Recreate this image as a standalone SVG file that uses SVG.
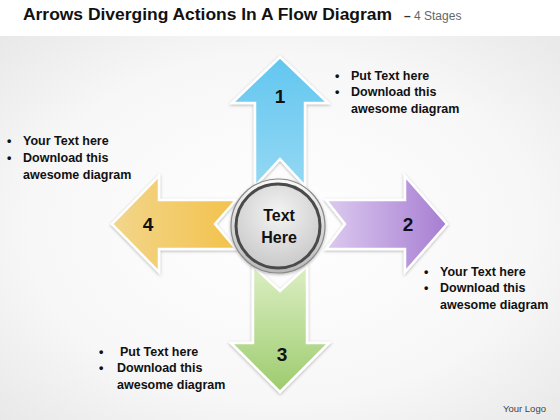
<svg xmlns="http://www.w3.org/2000/svg" width="560" height="420" viewBox="0 0 560 420">
<defs>
<radialGradient id="bg" cx="0.5" cy="0.5" r="0.75">
<stop offset="0" stop-color="#ffffff"/>
<stop offset="0.6" stop-color="#f7f7f7"/>
<stop offset="1" stop-color="#e6e6e6"/>
</radialGradient>
<linearGradient id="gBlue" x1="0" y1="0" x2="0" y2="1">
<stop offset="0" stop-color="#62c6ef"/>
<stop offset="1" stop-color="#94d8f4"/>
</linearGradient>
<linearGradient id="gPurple" x1="0" y1="0" x2="1" y2="0">
<stop offset="0" stop-color="#dccaef"/>
<stop offset="1" stop-color="#a77dd2"/>
</linearGradient>
<linearGradient id="gGreen" x1="0" y1="0" x2="0" y2="1">
<stop offset="0" stop-color="#dcefc4"/>
<stop offset="1" stop-color="#9dcb6d"/>
</linearGradient>
<linearGradient id="gYellow" x1="0" y1="0" x2="1" y2="0">
<stop offset="0" stop-color="#f2d68c"/>
<stop offset="1" stop-color="#f3c24c"/>
</linearGradient>
<linearGradient id="gRing" x1="0" y1="0" x2="0" y2="1">
<stop offset="0" stop-color="#fafafa"/>
<stop offset="1" stop-color="#b8b8b8"/>
</linearGradient>
<radialGradient id="gInner" cx="0.5" cy="0.35" r="0.7">
<stop offset="0" stop-color="#f4f4f4"/>
<stop offset="1" stop-color="#c6c6c6"/>
</radialGradient>
<filter id="sh" x="-20%" y="-20%" width="140%" height="140%">
<feDropShadow dx="0" dy="1" stdDeviation="1.5" flood-color="#000" flood-opacity="0.3"/>
</filter>
</defs>
<style>
.arrow{stroke:#ffffff;stroke-width:2.5;stroke-linejoin:miter;filter:url(#sh)}
.num{font-family:"Liberation Sans",Arial,sans-serif;font-weight:bold;font-size:19px;fill:#111;text-anchor:middle}
.txt{font-family:"Liberation Sans",Arial,sans-serif;font-weight:bold;font-size:12.5px;fill:#111}
.ctr{font-family:"Liberation Sans",Arial,sans-serif;font-weight:bold;font-size:16px;fill:#111;text-anchor:middle}
</style>
<rect x="0" y="0" width="560" height="420" fill="#ffffff"/>
<rect x="0" y="36" width="560" height="384" fill="url(#bg)"/>
<text x="23" y="20" font-family="'Liberation Sans',Arial,sans-serif" font-weight="bold" font-size="16" fill="#111" textLength="369" lengthAdjust="spacingAndGlyphs">Arrows Diverging Actions In A Flow Diagram</text>
<text x="404" y="20" font-family="'Liberation Sans',Arial,sans-serif" font-size="12" fill="#666"><tspan font-weight="bold" fill="#333">–</tspan> 4 Stages</text>
<g id="arrow1">
<polygon class="arrow" fill="url(#gBlue)" points="280,57 328,103 305,103 305,186 280,159 255,186 255,103 232,103"/>
<text class="num" x="280" y="103">1</text>
</g>
<g id="arrow2">
<polygon class="arrow" fill="url(#gPurple)" points="447,224 405,176 405,200 326,200 345,224 326,249 405,249 405,272"/>
<text class="num" x="408" y="231">2</text>
</g>
<g id="arrow3">
<polygon class="arrow" fill="url(#gGreen)" points="280,392 329,343 307,343 307,266 280,291 253,266 253,343 231,343"/>
<text class="num" x="282" y="361">3</text>
</g>
<g id="arrow4">
<polygon class="arrow" fill="url(#gYellow)" points="112,224 159,176 159,200 236,200 215,224 236,249 159,249 159,272"/>
<text class="num" x="148" y="231">4</text>
</g>
<g id="center">
<circle cx="278" cy="226" r="47" fill="url(#gRing)" stroke="#8a8a8a" stroke-width="1.2" filter="url(#sh)"/>
<circle cx="278" cy="226" r="42" fill="url(#gInner)" stroke="#4a4a4a" stroke-width="3"/>
<text class="ctr" x="279" y="221">Text</text>
<text class="ctr" x="279" y="243">Here</text>
</g>
<g id="text1">
<text class="txt" x="335" y="80">•</text>
<text class="txt" x="351" y="80">Put Text here</text>
<text class="txt" x="335" y="96">•</text>
<text class="txt" x="351" y="96">Download this</text>
<text class="txt" x="351" y="113">awesome diagram</text>
</g>
<g id="text2">
<text class="txt" x="424" y="276">•</text>
<text class="txt" x="440" y="276">Your Text here</text>
<text class="txt" x="424" y="292">•</text>
<text class="txt" x="440" y="292">Download this</text>
<text class="txt" x="440" y="309">awesome diagram</text>
</g>
<g id="text3">
<text class="txt" x="99" y="356">•</text>
<text class="txt" x="120" y="356">Put Text here</text>
<text class="txt" x="99" y="372">•</text>
<text class="txt" x="117" y="372">Download this</text>
<text class="txt" x="117" y="389">awesome diagram</text>
</g>
<g id="text4">
<text class="txt" x="7" y="145">•</text>
<text class="txt" x="23" y="145">Your Text here</text>
<text class="txt" x="7" y="162">•</text>
<text class="txt" x="23" y="162">Download this</text>
<text class="txt" x="23" y="179">awesome diagram</text>
</g>
<text x="503" y="412" font-family="'Liberation Sans',Arial,sans-serif" font-size="9.5" fill="#444">Your Logo</text>
</svg>
